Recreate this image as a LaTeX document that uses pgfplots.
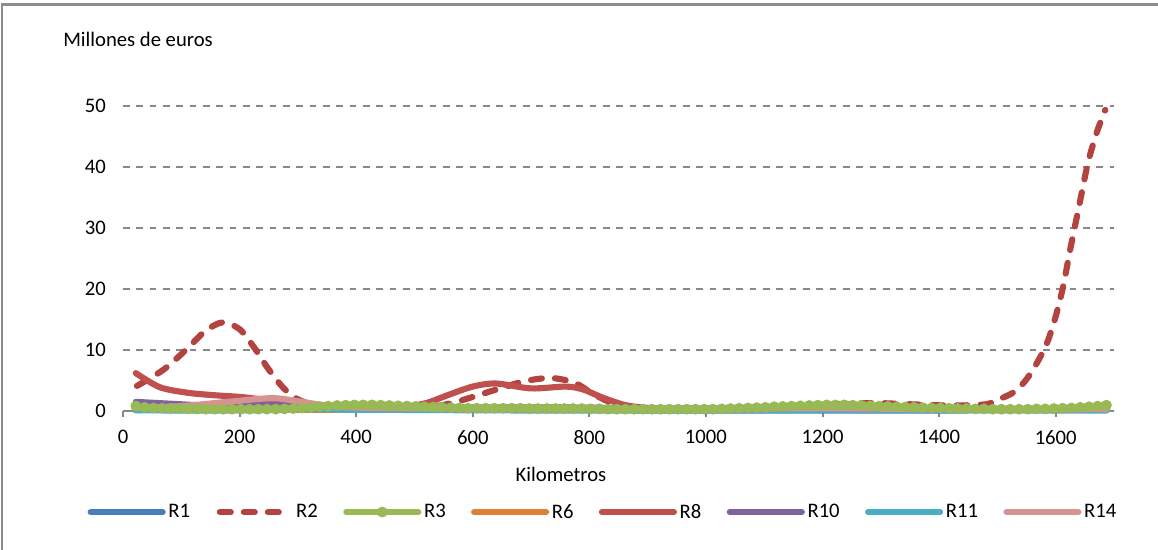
\documentclass[border=0pt]{standalone}
\usepackage{fontspec}
\setmainfont{Carlito}
\usepackage{pgfplots}
\usepackage{pgfplotstable}
\pgfplotsset{compat=1.18}

\definecolor{gridgray}{HTML}{888888}
\definecolor{framegray}{HTML}{8C8C8C}
\definecolor{cR1}{HTML}{4A7EBB}
\definecolor{cR2}{HTML}{B3433F}
\definecolor{cR3}{HTML}{98B954}
\definecolor{cR6}{HTML}{DC7F37}
\definecolor{cR8}{HTML}{C0504D}
\definecolor{cR10}{HTML}{7F63A1}
\definecolor{cR11}{HTML}{4BACC6}
\definecolor{cR14}{HTML}{D69391}

\newcommand{\cf}{\fontsize{15.5}{18}\selectfont}

% R3 (the series with markers)
\pgfplotstableread{
x y
22 0.8
37 0.6
52 0.5
67 0.45
82 0.4
97 0.4
112 0.35
127 0.35
142 0.3
157 0.3
172 0.3
187 0.3
202 0.3
217 0.3
232 0.3
247 0.3
262 0.3
277 0.35
292 0.4
307 0.5
322 0.6
337 0.7
352 0.8
367 0.9
382 0.95
397 1.0
412 1.0
427 1.0
442 0.95
457 0.9
472 0.85
487 0.8
502 0.75
517 0.7
532 0.65
547 0.6
562 0.55
577 0.5
592 0.45
607 0.45
622 0.45
637 0.45
652 0.45
667 0.45
682 0.45
697 0.4
712 0.4
727 0.4
742 0.4
757 0.4
772 0.4
787 0.4
802 0.35
817 0.35
832 0.3
847 0.3
862 0.3
877 0.3
892 0.3
907 0.3
922 0.3
937 0.3
952 0.3
967 0.3
982 0.3
997 0.3
1012 0.3
1027 0.35
1042 0.4
1057 0.45
1072 0.5
1087 0.55
1102 0.6
1117 0.7
1132 0.75
1147 0.8
1162 0.85
1177 0.9
1192 0.95
1207 1.0
1222 1.0
1237 1.0
1252 0.95
1267 0.9
1282 0.85
1297 0.8
1312 0.75
1327 0.7
1342 0.65
1357 0.6
1372 0.55
1387 0.5
1402 0.5
1417 0.45
1432 0.4
1447 0.4
1462 0.35
1477 0.35
1492 0.3
1507 0.3
1522 0.3
1537 0.3
1552 0.3
1567 0.35
1582 0.35
1597 0.4
1612 0.45
1627 0.5
1642 0.6
1657 0.7
1672 0.8
1687 0.95
}\rthree

\begin{document}
\begin{tikzpicture}
\useasboundingbox (0,0) rectangle (868.5pt,412.5pt);
\draw[framegray, line width=2pt] (1.5pt,0pt) -- (1.5pt,409pt) -- (868.5pt,409pt);
\begin{axis}[
    at={(92.25pt,104.25pt)}, anchor=south west,
    scale only axis, width=743.25pt, height=229pt,
    xmin=0, xmax=1700, ymin=0, ymax=50,
    clip=false,
    axis x line*=bottom, axis y line*=left,
    x axis line style={draw=gridgray, line width=1.5pt},
    y axis line style={draw=none},
    xtick={0,200,...,1600}, ytick={0,10,...,50},
    tick align=outside, major tick length=4.5pt,
    xtick style={draw=gridgray, line width=1.5pt},
    ytick style={draw=none},
    ymajorgrids,
    grid style={draw=gridgray, line width=1.5pt, dash pattern=on 5pt off 5pt},
    tick label style={font=\cf},
    /pgf/number format/assume math mode=true,
    /pgf/number format/1000 sep={},
    xticklabel shift=6.3pt,
    yticklabel shift=4.8pt,
    xlabel={Kilometros},
    xlabel style={at={(0.442,-0.232)}, anchor=base, font=\cf},
    every axis plot/.append style={line width=4.6pt, line cap=round, line join=round, smooth},
    legend image code/.code={\draw[mark repeat=2,mark phase=2,#1] plot coordinates {(0pt,0pt) (27pt,0pt) (54pt,0pt)};},
    legend columns=8,
    legend style={at={(-0.036,-0.331)}, anchor=west, draw=none, fill=none,
        inner sep=0pt, font=\cf,
        /tikz/every even column/.append style={column sep=17pt}},
]

\addplot[cR1] coordinates {
    (22,0.2) (150,0.4) (250,0.8) (320,0.7) (400,0.3) (800,0.1) (1687,0.1)
};
\addlegendentry{R1}

\addplot[cR2, dash pattern=on 8.2pt off 9.8pt, dash phase=17pt] coordinates {
    (22,4.0) (70,6.8) (110,10.2) (140,13.0) (170,14.5) (200,13.4) (225,10.4)
    (250,6.8) (275,3.8) (300,1.9) (330,1.0) (370,0.6) (450,0.5) (520,0.6)
    (560,1.2) (600,2.3) (640,3.5) (690,4.9) (735,5.4) (775,4.6) (810,2.6)
    (845,1.1) (880,0.5) (950,0.3) (1050,0.4) (1150,0.7) (1230,1.1) (1290,1.3)
    (1350,1.1) (1420,0.9) (1480,1.1) (1505,2.0) (1530,3.2) (1550,5.2)
    (1568,7.9) (1585,11.1) (1600,15.5) (1613,20.5) (1625,26.5) (1640,33.5)
    (1655,40.5) (1670,45.5) (1685,49.3)
};
\addlegendentry{R2}

\addplot[cR3, mark=*, mark size=3.8pt,
    mark options={solid, fill=cR3, draw=cR3, line width=0.5pt}] table[x=x, y=y] {\rthree};
\addlegendentry{R3}

\addplot[cR6] coordinates {
    (22,0.1) (600,0.1) (1200,0.1) (1687,0.1)
};
\addlegendentry{R6}

\addplot[cR8] coordinates {
    (22,6.2) (63,3.9) (110,3.0) (154,2.6) (201,2.3) (247,1.8) (292,1.3)
    (340,0.8) (400,0.6) (480,0.7) (520,1.3) (560,2.7) (600,4.0) (640,4.5)
    (700,3.7) (760,4.0) (790,3.5) (820,2.3) (860,1.0) (900,0.5) (950,0.3)
    (1100,0.4) (1300,0.5) (1500,0.3) (1687,0.3)
};
\addlegendentry{R8}

\addplot[cR10] coordinates {
    (22,1.5) (80,1.2) (150,0.9) (250,1.0) (320,0.9) (400,0.5) (700,0.6)
    (1000,0.4) (1200,0.8) (1300,0.5) (1500,0.3) (1687,0.3)
};
\addlegendentry{R10}

\addplot[cR11] coordinates {
    (22,0.1) (200,0.1) (320,0.3) (400,0.2) (600,0.15) (900,0.1) (1200,0.2) (1687,0.1)
};
\addlegendentry{R11}

\addplot[cR14] coordinates {
    (22,0.5) (100,0.8) (180,1.5) (255,2.1) (300,1.6) (350,0.9) (420,0.5)
    (600,0.4) (1000,0.35) (1200,0.45) (1400,0.3) (1687,0.3)
};
\addlegendentry{R14}

\end{axis}
\node[anchor=base west, font=\cf, inner sep=0pt] at (47.25pt,377.5pt) {Millones de euros};
\end{tikzpicture}
\end{document}
